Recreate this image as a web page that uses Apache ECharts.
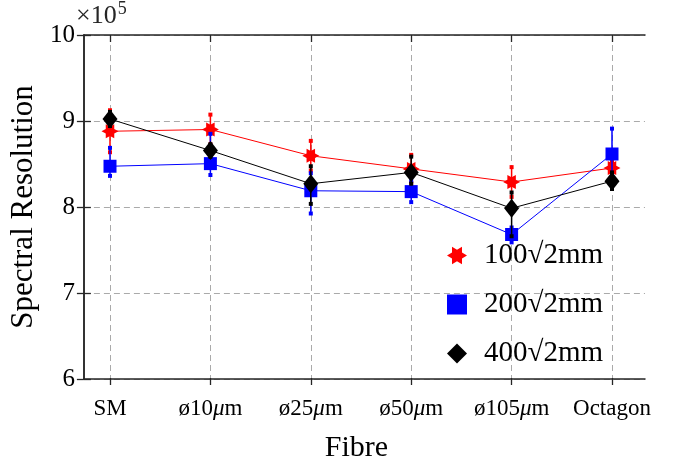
<!DOCTYPE html>
<html>
<head>
<meta charset="utf-8">
<script src="https://cdn.jsdelivr.net/npm/echarts@6/dist/echarts.min.js"></script>
<style>html,body{margin:0;padding:0;background:#fff}#chart{width:684px;height:468px}</style>
</head>
<body>
<div id="chart"></div>
<script>
// values in units of 1e5
var categories = ['SM', 'ø10μm', 'ø25μm', 'ø50μm', 'ø105μm', 'Octagon'];
var seriesNames = ['100√2mm', '200√2mm', '400√2mm'];

var res100 = [8.90, 8.92, 8.62, 8.47, 8.32, 8.48];
var res100Low = [8.66, 8.75, 8.45, 8.31, 8.15, 8.41];
var res100High = [9.14, 9.09, 8.79, 8.63, 8.49, 8.55];

var res200 = [8.50, 8.53, 8.22, 8.21, 7.72, 8.64];
var res200Low = [8.39, 8.40, 7.96, 8.09, 7.63, 8.40];
var res200High = [8.71, 8.87, 8.42, 8.33, 7.80, 8.93];

var res400 = [9.04, 8.68, 8.30, 8.43, 8.02, 8.33];
var res400Low = [8.96, 8.61, 8.07, 8.30, 7.70, 8.24];
var res400High = [9.12, 8.75, 8.50, 8.61, 8.20, 8.43];

var font = 'Liberation Serif';
var axisColor = '#262626';
var starPath = 'path://M10,0L5,2.89L5,8.66L0,5.77L-5,8.66L-5,2.89L-10,0L-5,-2.89L-5,-8.66L0,-5.77L5,-8.66L5,-2.89Z';

function errBars(low, high) {
    return low.map(function (v, i) { return [i, v, high[i]]; });
}

function errorBarRender(color) {
    return function (params, api) {
        var x = api.value(0);
        var top = api.coord([x, api.value(2)]);
        var bot = api.coord([x, api.value(1)]);
        var c = 2;
        return {
            type: 'group',
            children: [
                {type: 'line', shape: {x1: top[0], y1: top[1], x2: bot[0], y2: bot[1]}, style: {stroke: color, lineWidth: 1.5}},
                {type: 'rect', shape: {x: top[0] - c, y: top[1] - c, width: 2 * c, height: 2 * c}, style: {fill: color}},
                {type: 'rect', shape: {x: bot[0] - c, y: bot[1] - c, width: 2 * c, height: 2 * c}, style: {fill: color}}
            ]
        };
    };
}

var mychart = echarts.init(document.getElementById('chart'));

var option = {
    animation: false,
    textStyle: {fontFamily: font},
    grid: [
        {left: 110, right: 72, top: 35, bottom: 83},
        {left: 78, right: 39, top: 35, bottom: 83}
    ],
    legend: {
        orient: 'vertical',
        left: 442,
        top: 236,
        itemWidth: 20,
        itemHeight: 20,
        itemGap: 20,
        textStyle: {fontFamily: font, fontSize: 29, color: '#000', padding: [0, 0, 0, 12]},
        data: [
            {name: seriesNames[0], icon: starPath},
            {name: seriesNames[1], icon: 'rect'},
            {name: seriesNames[2], icon: 'diamond'}
        ]
    },
    graphic: [{
        type: 'text',
        left: 76,
        top: 0,
        style: {
            text: '{a|×10}{s|5}',
            rich: {
                a: {fontFamily: font, fontSize: 26, fill: axisColor},
                s: {fontFamily: font, fontSize: 18, fill: axisColor, padding: [0, 0, 14, 1]}
            }
        }
    }],
    xAxis: [
        {
            gridIndex: 0, type: 'category', data: categories, boundaryGap: false, position: 'bottom',
            axisLine: {show: false},
            axisTick: {inside: true, length: 7, interval: 0, lineStyle: {color: axisColor, width: 1.3}},
            axisLabel: {
                interval: 0, margin: 12, fontSize: 23, color: '#000', fontFamily: font,
                formatter: function (v) { return v.replace('μ', '{mu|μ}'); },
                rich: {mu: {fontStyle: 'italic', fontSize: 23, fontFamily: font, color: '#000'}}
            },
            splitLine: {show: true, interval: 0, lineStyle: {color: '#aaaaaa', type: [6, 4], width: 1}}
        },
        {
            gridIndex: 1, type: 'value', min: 0, max: 1, position: 'bottom',
            name: 'Fibre', nameLocation: 'middle', nameGap: 54,
            nameTextStyle: {fontFamily: font, fontSize: 30, color: '#000', padding: [0, 16, 0, 0]},
            axisLine: {show: true, lineStyle: {color: axisColor, width: 1.5}},
            axisTick: {show: false}, axisLabel: {show: false}, splitLine: {show: false}
        },
        {
            gridIndex: 1, type: 'value', min: 0, max: 1, position: 'top',
            axisLine: {show: true, lineStyle: {color: axisColor, width: 1.5}},
            axisTick: {show: false}, axisLabel: {show: false}, splitLine: {show: false}
        },
        {
            gridIndex: 0, type: 'category', data: categories, boundaryGap: false, position: 'top',
            axisLine: {show: false},
            axisTick: {inside: true, length: 7, interval: 0, lineStyle: {color: axisColor, width: 1.3}},
            axisLabel: {show: false}, splitLine: {show: false}
        }
    ],
    yAxis: [
        {gridIndex: 0, type: 'value', min: 6, max: 10, show: false},
        {
            gridIndex: 1, type: 'value', min: 6, max: 10, interval: 1, position: 'left',
            name: 'Spectral Resolution', nameLocation: 'middle', nameGap: 40,
            nameTextStyle: {fontFamily: font, fontSize: 31, color: '#000'},
            axisLine: {show: true, lineStyle: {color: axisColor, width: 1.5}},
            axisTick: {inside: true, length: 7, lineStyle: {color: axisColor, width: 1.3}},
            axisLabel: {margin: 9, fontSize: 25, color: '#000', fontFamily: font},
            splitLine: {show: true, lineStyle: {color: '#aaaaaa', type: [6, 4], width: 1}}
        },
        {
            gridIndex: 1, type: 'value', min: 6, max: 10, interval: 1, position: 'right',
            axisLine: {show: true, lineStyle: {color: axisColor, width: 1.5}},
            axisTick: {inside: true, length: 7, lineStyle: {color: axisColor, width: 1.3}},
            axisLabel: {show: false}, splitLine: {show: false}
        }
    ],
    series: [
        {
            name: 'err100', type: 'custom', xAxisIndex: 0, yAxisIndex: 0, z: 2,
            renderItem: errorBarRender('#ff0000'), encode: {x: 0, y: [1, 2]},
            data: errBars(res100Low, res100High)
        },
        {
            name: seriesNames[0], type: 'line', xAxisIndex: 0, yAxisIndex: 0, z: 3,
            data: res100, symbol: starPath, symbolSize: [17, 14],
            itemStyle: {color: '#ff0000'}, lineStyle: {color: '#ff0000', width: 1}
        },
        {
            name: 'err200', type: 'custom', xAxisIndex: 0, yAxisIndex: 0, z: 4,
            renderItem: errorBarRender('#0000ff'), encode: {x: 0, y: [1, 2]},
            data: errBars(res200Low, res200High)
        },
        {
            name: seriesNames[1], type: 'line', xAxisIndex: 0, yAxisIndex: 0, z: 5,
            data: res200, symbol: 'rect', symbolSize: 13,
            itemStyle: {color: '#0000ff'}, lineStyle: {color: '#0000ff', width: 1}
        },
        {
            name: 'err400', type: 'custom', xAxisIndex: 0, yAxisIndex: 0, z: 6,
            renderItem: errorBarRender('#000000'), encode: {x: 0, y: [1, 2]},
            data: errBars(res400Low, res400High)
        },
        {
            name: seriesNames[2], type: 'line', xAxisIndex: 0, yAxisIndex: 0, z: 7,
            data: res400, symbol: 'diamond', symbolSize: [15, 19],
            itemStyle: {color: '#000000'}, lineStyle: {color: '#000000', width: 1}
        }
    ]
};

mychart.setOption(option);
</script>
</body>
</html>
